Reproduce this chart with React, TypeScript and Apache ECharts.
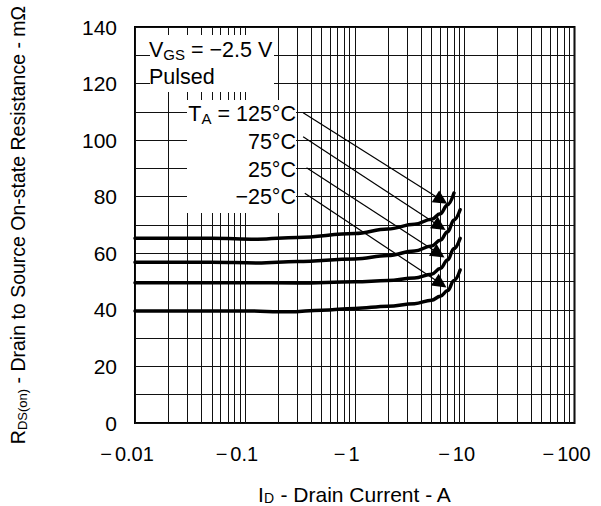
import React, { useEffect, useRef } from 'react';
import * as echarts from 'echarts';

const FONT = "'Liberation Sans', Arial, Helvetica, sans-serif";

const xTickNumbers = ['0.01', '0.1', '1', '10', '100'];
const yTickValues = [0, 20, 40, 60, 80, 100, 120, 140];
const minorXGrid = [
  0.02, 0.03, 0.04, 0.05, 0.06, 0.07, 0.08, 0.09,
  0.2, 0.3, 0.4, 0.5, 0.6, 0.7, 0.8, 0.9,
  2, 3, 4, 5, 6, 7, 8, 9,
  20, 30, 40, 50, 60, 70, 80, 90,
];

const seriesNames = ['125°C', '75°C', '25°C', '−25°C'];

const curve125 = [
  [0.01, 65.3], [0.05, 65.3], [0.13, 65.0], [0.3, 65.6], [1, 67], [2, 68.6],
  [3.5, 70.3], [5, 72], [6, 74], [7, 77.2], [8, 81.3],
];
const curve75 = [
  [0.01, 56.8], [0.05, 56.8], [0.13, 56.6], [0.3, 57.1], [1, 58], [2, 59.2],
  [3.5, 60.8], [5, 62.6], [6, 64.6], [7, 67.6], [8, 71.8], [9.1, 75.4],
];
const curve25 = [
  [0.01, 49.6], [0.1, 49.6], [0.3, 49.5], [1, 49.9], [2, 50.4], [3.5, 51.3],
  [5, 52.6], [6, 54.6], [7, 57.6], [8, 61.7], [9.1, 65.3],
];
const curveM25 = [
  [0.01, 39.6], [0.1, 39.6], [0.25, 39.3], [0.5, 39.9], [1, 40.5], [2, 41.3],
  [3.5, 42.2], [5, 43.4], [6, 44.8], [7, 46.8], [8, 50.4], [9.1, 54.1],
];
const curves = [curve125, curve75, curve25, curveM25];

// annotation arrows: [start, end] in data coordinates
const arrowLines = [
  [[0.339, 109.7], [6.14, 78.8]],
  [[0.339, 101.2], [5.93, 69.6]],
  [[0.364, 90.2], [5.8, 59.9]],
  [[0.351, 81.2], [6.05, 49.3]],
];

export default function App() {
  const ref = useRef<HTMLDivElement>(null);

  useEffect(() => {
    if (!ref.current) return;
    const chart = echarts.init(ref.current, null, { renderer: 'svg' });

    const gridColor = '#111';

    const option: any = {
      animation: false,
      backgroundColor: '#fff',
      textStyle: { fontFamily: FONT },
      grid: {
        left: 135,
        top: 27,
        right: 26.5,
        bottom: 83,
        containLabel: false,
        outerBoundsMode: 'none',
        show: true,
        borderColor: '#000',
        borderWidth: 2,
        backgroundColor: 'transparent',
      },
      xAxis: {
        type: 'log',
        logBase: 10,
        min: 0.01,
        max: 100,
        name: '{m|I}{s|D}{m| - Drain Current - A}',
        nameLocation: 'middle',
        nameGap: 61,
        nameTextStyle: {
          color: '#000',
          fontFamily: FONT,
          rich: {
            m: { fontSize: 21, lineHeight: 21, fontFamily: FONT, color: '#000' },
            s: { fontSize: 14, lineHeight: 14, verticalAlign: 'bottom', fontFamily: FONT, color: '#000' },
          },
        },
        axisLine: { show: false },
        axisTick: { show: false },
        axisLabel: {
          color: '#000',
          fontSize: 20,
          fontFamily: FONT,
          margin: 21,
          formatter: (v: number) => {
            const i = Math.round(Math.log10(v)) + 2;
            const n = xTickNumbers[i];
            return n === undefined ? '' : '{m|−}{n|' + n + '}';
          },
          rich: {
            m: { fontSize: 20, fontFamily: FONT, color: '#000', padding: [0, 3, 0, 0] },
            n: { fontSize: 20, fontFamily: FONT, color: '#000', padding: [0, 16, 0, 0] },
          },
        },
        splitLine: { show: true, lineStyle: { color: gridColor, width: 1 } },
      },
      yAxis: {
        type: 'value',
        min: 0,
        max: 140,
        interval: 20,
        name: '{m|R}{s|DS(on)}{m| - Drain to Source On-state Resistance - mΩ}',
        nameLocation: 'middle',
        nameGap: 106,
        nameTextStyle: {
          color: '#000',
          fontFamily: FONT,
          rich: {
            m: { fontSize: 19.5, lineHeight: 22, fontFamily: FONT, color: '#000' },
            s: { fontSize: 13, lineHeight: 13, verticalAlign: 'bottom', fontFamily: FONT, color: '#000' },
          },
        },
        axisLine: { show: false },
        axisTick: { show: false },
        minorTick: { show: false, splitNumber: 2 },
        minorSplitLine: { show: true, lineStyle: { color: gridColor, width: 1 } },
        axisLabel: {
          color: '#000',
          fontSize: 21,
          fontFamily: FONT,
          margin: 18,
          formatter: (v: number) => (yTickValues.includes(v) ? String(v) : ''),
        },
        splitLine: { show: true, lineStyle: { color: gridColor, width: 1 } },
      },
      graphic: {
        elements: [
          { type: 'rect', z: 50, shape: { x: 150, y: 35, width: 124, height: 57 }, style: { fill: '#fff' }, silent: true },
          { type: 'rect', z: 50, shape: { x: 187, y: 100, width: 109, height: 113 }, style: { fill: '#fff' }, silent: true },
          {
            type: 'text', z: 70, x: 149, y: 50,
            style: {
              text: '{a|V}{b|GS}{a| = −2.5 V}',
              verticalAlign: 'middle',
              fill: '#000',
              rich: {
                a: { fontSize: 21.5, lineHeight: 24, fontFamily: FONT, fill: '#000' },
                b: { fontSize: 15, lineHeight: 15, verticalAlign: 'bottom', fontFamily: FONT, fill: '#000' },
              },
            },
          },
          {
            type: 'text', z: 70, x: 149, y: 77,
            style: { text: 'Pulsed', fontSize: 21.5, fontFamily: FONT, fill: '#000', verticalAlign: 'middle' },
          },
          {
            type: 'text', z: 70, x: 296, y: 114,
            style: {
              text: '{a|T}{b|A}{a| = 125°C}',
              align: 'right',
              verticalAlign: 'middle',
              fill: '#000',
              rich: {
                a: { fontSize: 21.5, lineHeight: 24, fontFamily: FONT, fill: '#000' },
                b: { fontSize: 15, lineHeight: 15, verticalAlign: 'bottom', fontFamily: FONT, fill: '#000' },
              },
            },
          },
          {
            type: 'text', z: 70, x: 296, y: 142,
            style: { text: '75°C', fontSize: 21.5, fontFamily: FONT, fill: '#000', align: 'right', verticalAlign: 'middle' },
          },
          {
            type: 'text', z: 70, x: 296, y: 169.5,
            style: { text: '25°C', fontSize: 21.5, fontFamily: FONT, fill: '#000', align: 'right', verticalAlign: 'middle' },
          },
          {
            type: 'text', z: 70, x: 296, y: 197,
            style: { text: '−25°C', fontSize: 21.5, fontFamily: FONT, fill: '#000', align: 'right', verticalAlign: 'middle' },
          },
        ],
      },
      series: [
        {
          type: 'line',
          name: 'minor-grid',
          data: [],
          z: 1,
          silent: true,
          showSymbol: false,
          markLine: {
            z: 1,
            silent: true,
            symbol: ['none', 'none'],
            label: { show: false },
            emphasis: { disabled: true },
            lineStyle: { color: gridColor, width: 1, type: 'solid' },
            data: minorXGrid.map((v) => ({ xAxis: v })),
          },
        },
        ...curves.map((c, i) => ({
          type: 'line',
          name: seriesNames[i],
          data: c,
          z: 60,
          smooth: 0.4,
          smoothMonotone: 'x',
          showSymbol: false,
          silent: true,
          lineStyle: { color: '#000', width: 3.5, cap: 'round' },
        })),
        {
          type: 'lines',
          coordinateSystem: 'cartesian2d',
          z: 60,
          silent: true,
          symbol: ['none', 'triangle'],
          symbolSize: 14,
          lineStyle: { color: '#000', width: 1.2, opacity: 1 },
          itemStyle: { color: '#000' },
          data: arrowLines.map((c) => ({ coords: c })),
        },
      ],
    };

    chart.setOption(option);
    return () => chart.dispose();
  }, []);

  return (
    <div
      ref={ref}
      style={{ position: 'fixed', left: 0, top: 0, width: 601, height: 506, overflow: 'hidden' }}
    />
  );
}
